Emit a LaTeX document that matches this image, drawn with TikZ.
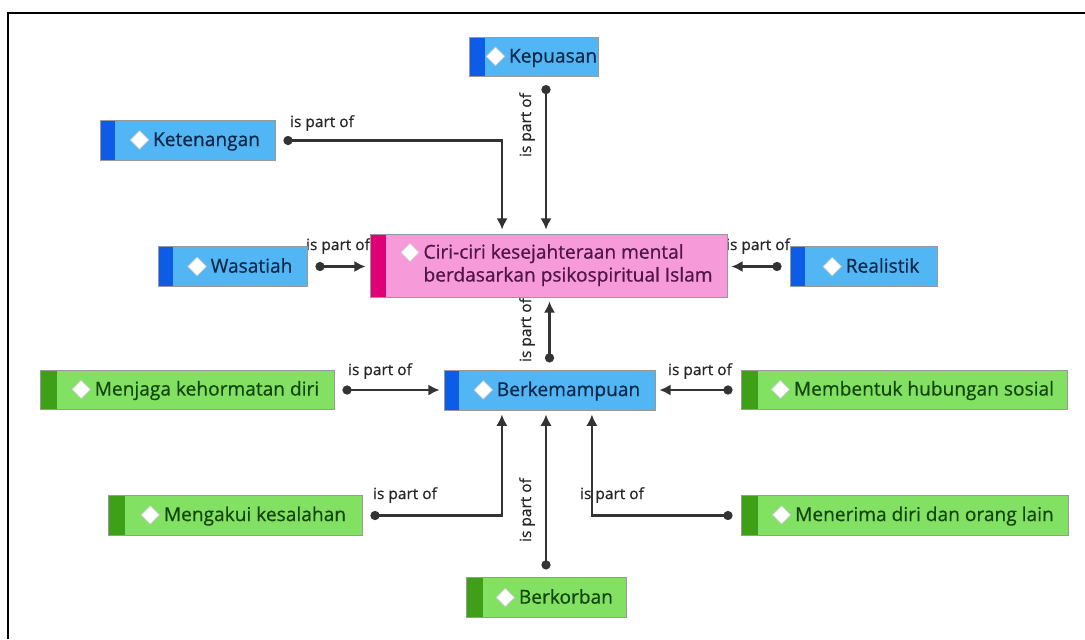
\documentclass[tikz,border=0pt]{standalone}
\usepackage{fontspec}
\setmainfont{Open Sans}[FakeBold=0.6]
\usetikzlibrary{arrows.meta,positioning}

\definecolor{boxblue}{RGB}{82,182,245}
\definecolor{stripeblue}{RGB}{12,92,232}
\definecolor{textblue}{RGB}{12,40,72}
\definecolor{boxgreen}{RGB}{130,224,98}
\definecolor{stripegreen}{RGB}{62,160,22}
\definecolor{textgreen}{RGB}{20,70,12}
\definecolor{boxpink}{RGB}{246,154,218}
\definecolor{stripepink}{RGB}{222,0,116}
\definecolor{textpink}{RGB}{80,20,70}

\newcommand{\dmd}{\tikz[baseline=-0.6ex,x=1cm,y=1cm]\draw[fill=white,draw=black!20,line width=0.5pt] (0,0.23)--(0.23,0)--(0,-0.23)--(-0.23,0)--cycle;}

\tikzset{
  box/.style={rectangle,draw=black!40,line width=0.6pt,minimum height=0.98cm,inner xsep=1pt,inner ysep=2pt,font=\fontsize{13.6}{16.3}\selectfont},
  bluebox/.style={box,fill=boxblue,text=textblue,path picture={\fill[stripeblue] (path picture bounding box.south west) rectangle ([xshift=0.375cm]path picture bounding box.north west);}},
  greenbox/.style={box,fill=boxgreen,text=textgreen,path picture={\fill[stripegreen] (path picture bounding box.south west) rectangle ([xshift=0.42cm]path picture bounding box.north west);}},
  pinkbox/.style={box,fill=boxpink,text=textpink,minimum height=1.575cm,path picture={\fill[stripepink] (path picture bounding box.south west) rectangle ([xshift=0.4cm]path picture bounding box.north west);}},
  ispart/.style={draw=black!80,line width=1.5pt,arrows={Circle[length=6.5pt]-Latex[length=8pt,width=8pt]},shorten <=0.2cm,shorten >=0.1cm},
  lbl/.style={inner sep=0pt,text=black!85,font=\fontsize{11}{13}\selectfont}
}

\begin{document}
\begin{tikzpicture}[x=0.025cm,y=-0.025cm]
\useasboundingbox (0,0) rectangle (1085,639);
\draw [line width=1pt] (8,639) -- (8,13) -- (1085,13);

% labels
\node[lbl,rotate=90] (l1) at (527,125) {is part of};
\node[lbl] (l2) at (322,123) {is part of};
\node[lbl] (l3) at (338,246) {is part of};
\node[lbl] (l4) at (758,246) {is part of};
\node[lbl,rotate=90] (l5) at (527,330) {is part of};
\node[lbl] (l6) at (380,371) {is part of};
\node[lbl] (l7) at (700,371) {is part of};
\node[lbl] (l8) at (405,495) {is part of};
\node[lbl] (l9) at (612,495) {is part of};
\node[lbl,rotate=90] (l10) at (527,510) {is part of};

% boxes
\node[pinkbox,minimum width=8.925cm] (cen) at (548.5,265.5) {\hspace*{0.4cm}\dmd\hspace{0.1cm}\begin{tabular}[t]{@{}l@{}}Ciri-ciri kesejahteraan mental\\berdasarkan psikospiritual Islam\end{tabular}};
\node[bluebox,minimum width=3.15cm] (kep) at (534,57) {\hspace*{0.375cm}\dmd\hspace{0.1cm}Kepuasan};
\node[bluebox,minimum width=4.375cm] (ket) at (187.5,140.5) {\hspace*{0.375cm}\dmd\hspace{0.1cm}Ketenangan};
\node[bluebox,minimum width=3.725cm] (was) at (232.5,266.5) {\hspace*{0.375cm}\dmd\hspace{0.1cm}Wasatiah};
\node[bluebox,minimum width=3.675cm] (rea) at (863.5,266.5) {\hspace*{0.375cm}\dmd\hspace{0.1cm}Realistik};
\node[bluebox,minimum width=5.275cm] (bk) at (549.5,390.5) {\hspace*{0.375cm}\dmd\hspace{0.1cm}Berkemampuan};
\node[greenbox,minimum width=7.35cm] (mjg) at (187,390) {\hspace*{0.42cm}\dmd\hspace{0.1cm}Menjaga kehormatan diri};
\node[greenbox,minimum width=8.15cm] (mbh) at (904,390) {\hspace*{0.42cm}\dmd\hspace{0.1cm}Membentuk hubungan sosial};
\node[greenbox,minimum width=6.35cm] (mgk) at (235,515.5) {\hspace*{0.42cm}\dmd\hspace{0.1cm}Mengakui kesalahan};
\node[greenbox,minimum width=8.175cm] (mnr) at (904.5,515.5) {\hspace*{0.42cm}\dmd\hspace{0.1cm}Menerima diri dan orang lain};
\node[greenbox,minimum width=4.0cm] (bkr) at (546,597.5) {\hspace*{0.42cm}\dmd\hspace{0.1cm}Berkorban};

% connectors
\draw [ispart] ([xshift=0.3cm]kep.south) -- ([xshift=0.3cm]kep.south |- cen.north);
\draw [ispart] (ket.east) -| ([xshift=-1.16cm]cen.north);
\draw [ispart] (was.east) -- (was.east -| cen.west);
\draw [ispart] (rea.west) -- (rea.west -| cen.east);
\draw [ispart] (bk.north) -- (bk.north |- cen.south);
\draw [ispart] (mjg.east) -- (mjg.east -| bk.west);
\draw [ispart] (mbh.west) -- (mbh.west -| bk.east);
\draw [ispart] (mgk.east) -| ([xshift=-1.19cm]bk.south);
\draw [ispart] (mnr.west) -| ([xshift=1.06cm]bk.south);
\draw [ispart] (bkr.north) -- (bkr.north |- bk.south);
\end{tikzpicture}
\end{document}
